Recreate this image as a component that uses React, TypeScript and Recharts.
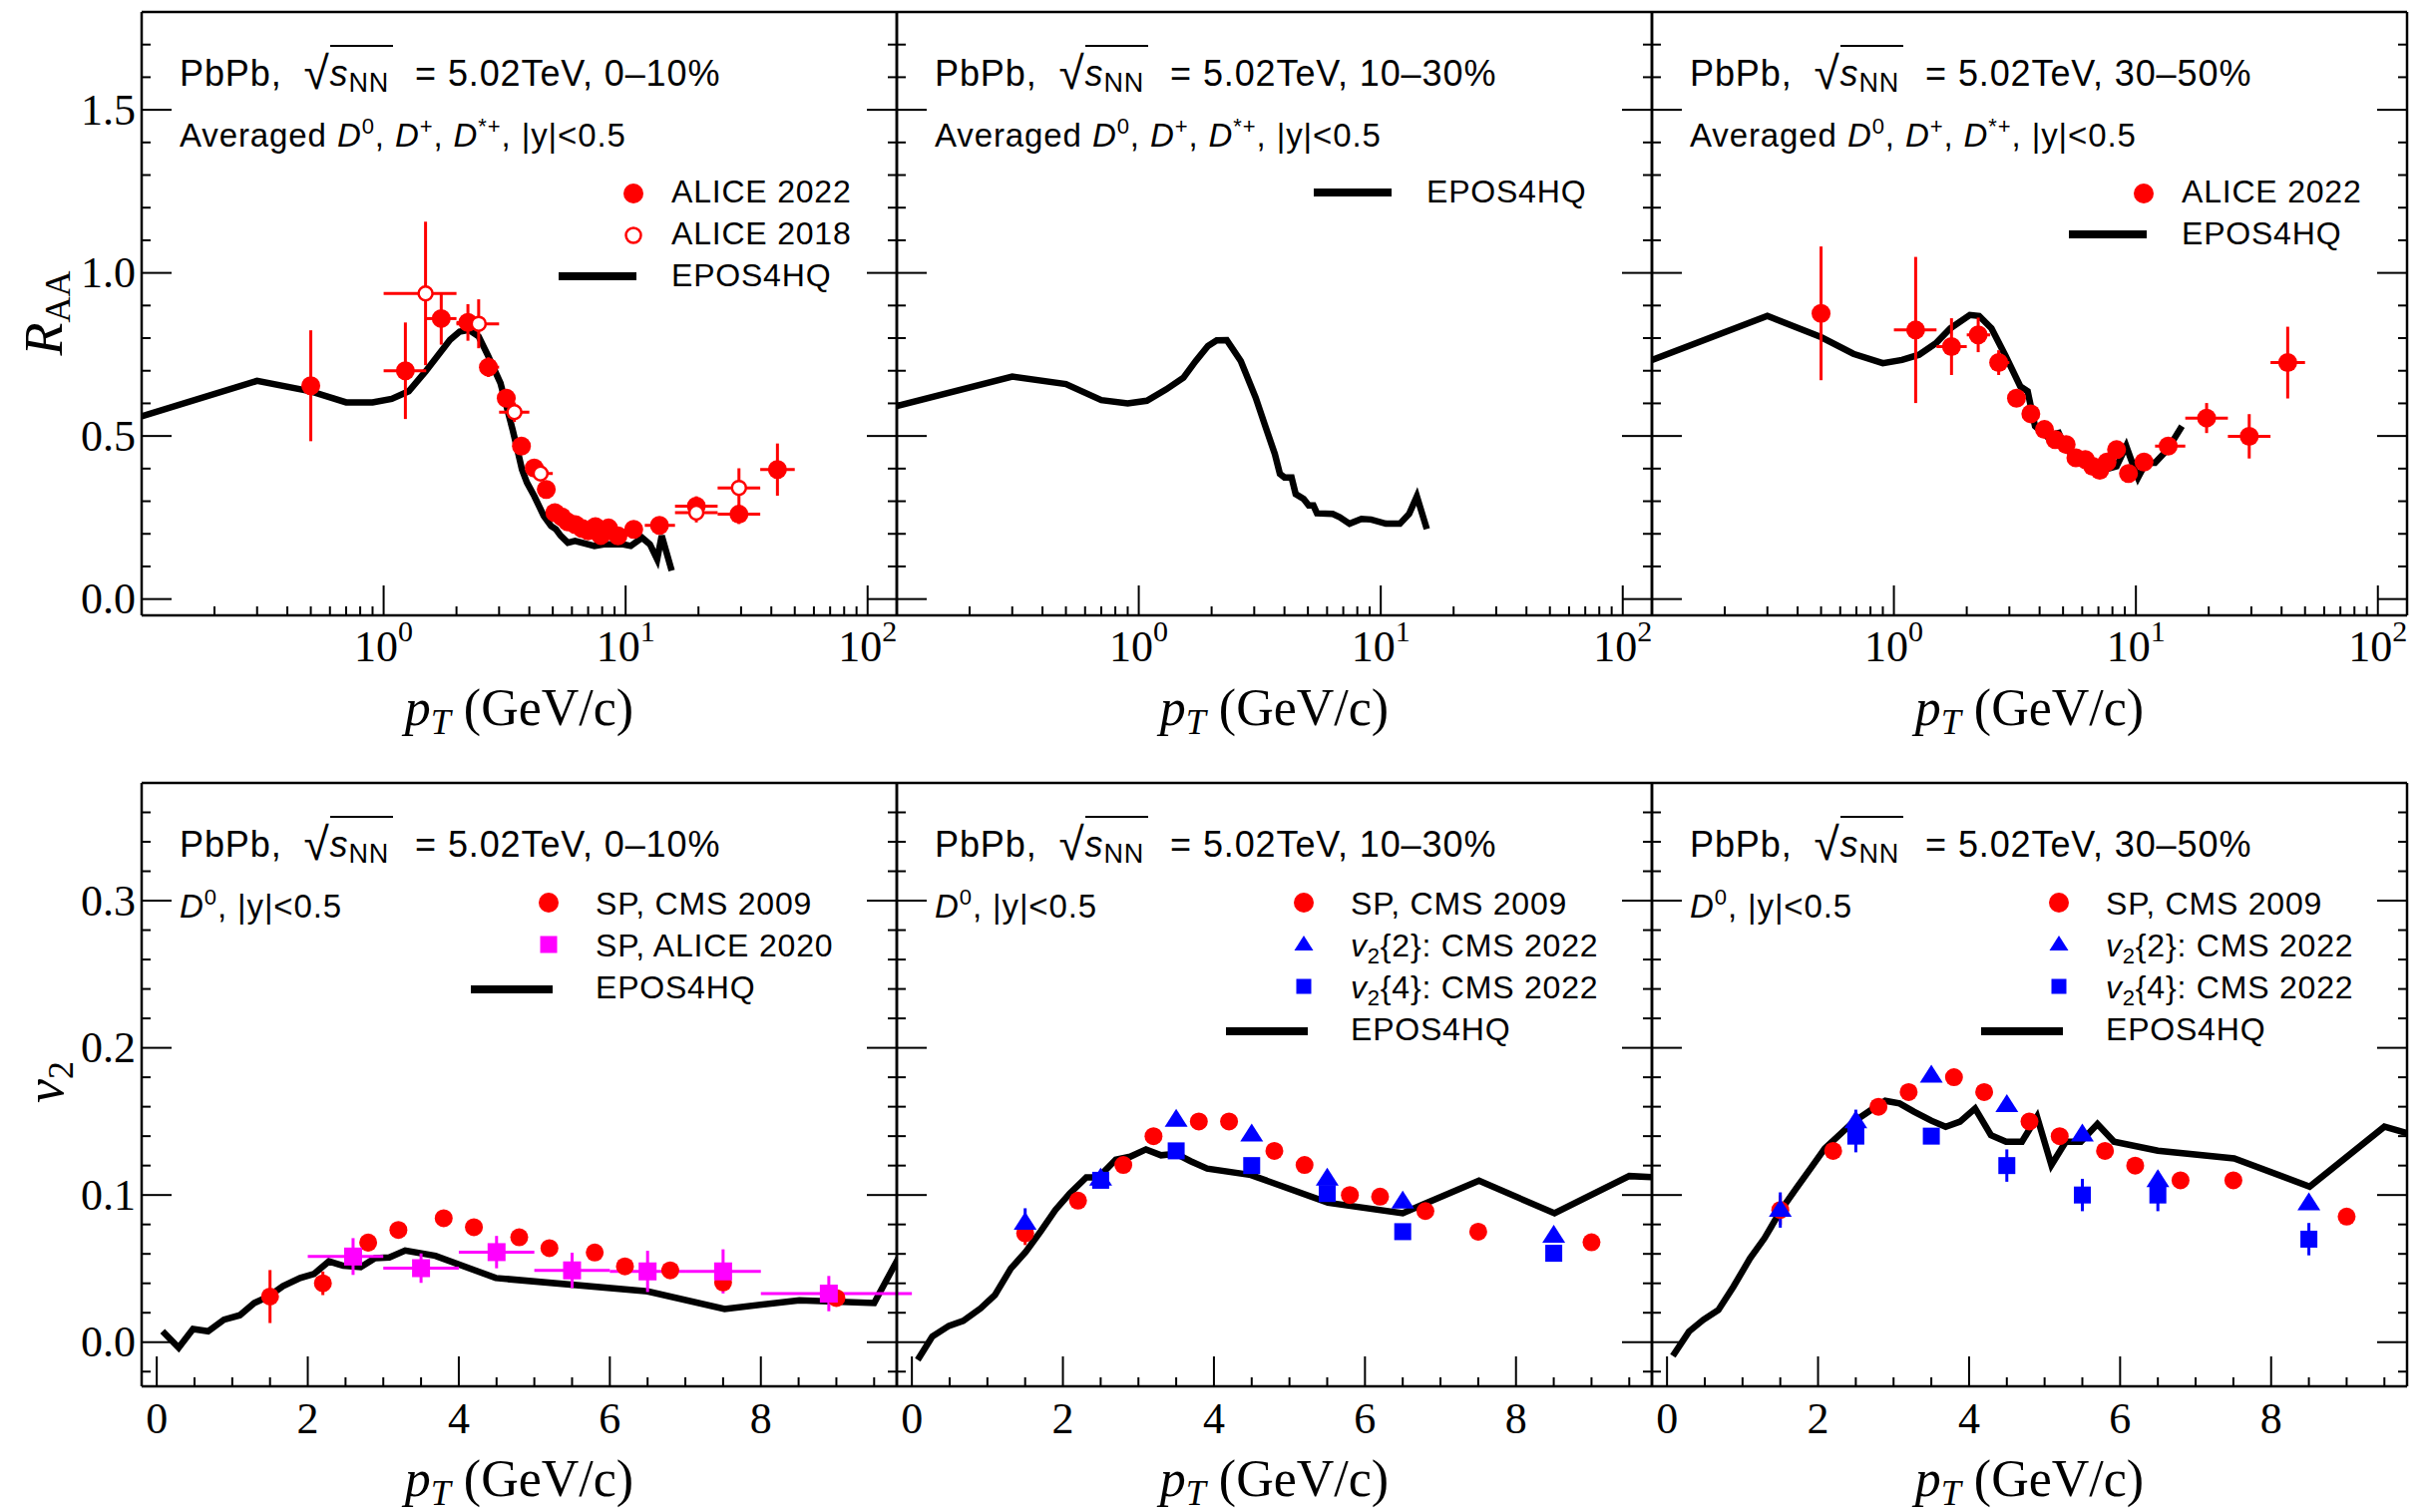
import React from 'react';
import { ComposedChart, Line, Scatter, XAxis, YAxis, ErrorBar } from 'recharts';

const W = 757;
const H = 605;
const COLS = [142, 899, 1656];
const ROWS = [12, 785];
const ML = 140, MR = 20, MT = 12, MB = 80, AX = 10;

const SANS = '"Liberation Sans", Arial, sans-serif';
const SERIF = '"Liberation Serif", "Times New Roman", serif';

// ---- axes ----
const RAA_X_DOMAIN = [0.1, 132];
const RAA_Y_DOMAIN = [-0.05, 1.8];
const RAA_X_MAJOR = [1, 10, 100];
const RAA_X_EXP = ['0', '1', '2'];
const RAA_X_MINOR = [0.2, 0.3, 0.4, 0.5, 0.6, 0.7, 0.8, 0.9, 2, 3, 4, 5, 6, 7, 8, 9, 20, 30, 40, 50, 60, 70, 80, 90];
const RAA_Y_MAJOR = [0, 0.5, 1, 1.5];
const RAA_Y_LABELS = ['0.0', '0.5', '1.0', '1.5'];
const RAA_Y_MINOR = [0.1, 0.2, 0.3, 0.4, 0.6, 0.7, 0.8, 0.9, 1.1, 1.2, 1.3, 1.4, 1.6, 1.7];

const V2_X_DOMAIN = [-0.2, 9.8];
const V2_Y_DOMAIN = [-0.03, 0.38];
const V2_X_MAJOR = [0, 2, 4, 6, 8];
const V2_X_LABELS = ['0', '2', '4', '6', '8'];
const V2_X_MINOR = [0.5, 1, 1.5, 2.5, 3, 3.5, 4.5, 5, 5.5, 6.5, 7, 7.5, 8.5, 9, 9.5];
const V2_Y_MAJOR = [0, 0.1, 0.2, 0.3];
const V2_Y_LABELS = ['0.0', '0.1', '0.2', '0.3'];
const V2_Y_MINOR = [-0.02, 0.02, 0.04, 0.06, 0.08, 0.12, 0.14, 0.16, 0.18, 0.22, 0.24, 0.26, 0.28, 0.32, 0.34, 0.36];

const CENTRALITIES = ['0–10%', '10–30%', '30–50%'];

// ---- EPOS4HQ curves [pT, value] ----
const EPOS_RAA_010 = [
  [0.1, 0.56], [0.3, 0.669], [0.5, 0.637], [0.7, 0.603], [0.9, 0.603], [1.08, 0.614], [1.27, 0.637],
  [1.49, 0.698], [1.88, 0.795], [2.06, 0.82], [2.25, 0.825], [2.47, 0.805], [2.71, 0.744], [3.04, 0.662],
  [3.41, 0.52], [3.57, 0.458], [3.73, 0.397], [3.91, 0.357], [4.19, 0.316], [4.59, 0.255], [4.92, 0.224],
  [5.15, 0.214], [5.39, 0.194], [5.77, 0.173], [6.18, 0.178], [7.43, 0.163], [8.13, 0.168], [9.78, 0.168],
  [10.5, 0.163], [11.7, 0.188], [12.6, 0.168], [13.5, 0.122], [14.1, 0.194], [15.5, 0.087],
];
const EPOS_RAA_1030 = [
  [0.1, 0.592], [0.3, 0.682], [0.5, 0.659], [0.7, 0.61], [0.9, 0.6], [1.08, 0.608], [1.3, 0.643],
  [1.53, 0.679], [1.72, 0.73], [1.93, 0.776], [2.1, 0.793], [2.31, 0.794], [2.64, 0.73], [3.04, 0.618],
  [3.33, 0.531], [3.65, 0.445], [3.83, 0.384], [4.0, 0.373], [4.28, 0.373], [4.45, 0.322], [4.8, 0.307],
  [5.04, 0.287], [5.27, 0.287], [5.45, 0.263], [6.33, 0.261], [6.77, 0.251], [7.43, 0.231], [8.32, 0.246],
  [9.12, 0.244], [10.5, 0.231], [12.0, 0.231], [13.1, 0.261], [14.1, 0.315], [15.5, 0.215],
];
const EPOS_RAA_3050 = [
  [0.1, 0.733], [0.3, 0.868], [0.5, 0.803], [0.68, 0.752], [0.9, 0.723], [1.08, 0.733], [1.27, 0.749],
  [1.49, 0.784], [1.71, 0.83], [2.06, 0.871], [2.25, 0.868], [2.53, 0.83], [2.9, 0.744], [3.33, 0.652],
  [3.57, 0.637], [3.83, 0.53], [4.28, 0.499], [4.8, 0.509], [5.15, 0.458], [5.65, 0.438], [6.18, 0.418],
  [6.77, 0.407], [7.43, 0.397], [8.32, 0.407], [9.12, 0.469], [9.78, 0.407], [10.2, 0.372], [11.0, 0.418],
  [12.0, 0.418], [13.5, 0.458], [15.5, 0.53],
];
const EPOS_V2_010 = [
  [0.077, 0.0074], [0.29, -0.0038], [0.48, 0.009], [0.68, 0.0074], [0.89, 0.0153], [1.1, 0.0183],
  [1.29, 0.0266], [1.48, 0.031], [1.67, 0.038], [1.9, 0.0436], [2.08, 0.0463], [2.28, 0.0549],
  [2.47, 0.0519], [2.7, 0.051], [2.89, 0.0571], [3.08, 0.0576], [3.29, 0.0623], [3.69, 0.0587],
  [4.49, 0.0436], [6.5, 0.0345], [7.52, 0.0226], [8.51, 0.0284], [9.5, 0.0266], [10.0, 0.074],
];
const EPOS_V2_1030 = [
  [0.077, -0.012], [0.27, 0.0038], [0.49, 0.0111], [0.68, 0.0145], [0.91, 0.023], [1.1, 0.032],
  [1.31, 0.05], [1.51, 0.0615], [1.71, 0.0756], [1.9, 0.0898], [2.09, 0.101], [2.31, 0.112],
  [2.47, 0.112], [2.7, 0.124], [2.89, 0.126], [3.1, 0.131], [3.3, 0.127], [3.5, 0.128], [3.69, 0.123],
  [3.91, 0.118], [4.49, 0.1136], [5.51, 0.0948], [6.5, 0.0876], [6.75, 0.0932], [7.51, 0.1097],
  [8.51, 0.0876], [9.5, 0.1129], [9.85, 0.112],
];
const EPOS_V2_3050 = [
  [0.077, -0.0093], [0.29, 0.0072], [0.48, 0.0152], [0.68, 0.0219], [0.88, 0.0378], [1.1, 0.057],
  [1.29, 0.0706], [1.51, 0.0898], [1.71, 0.1045], [1.9, 0.118], [2.09, 0.1317], [2.28, 0.1407],
  [2.47, 0.1498], [2.7, 0.1577], [2.89, 0.164], [3.08, 0.1622], [3.27, 0.1566], [3.5, 0.1505],
  [3.69, 0.1464], [3.88, 0.1498], [4.08, 0.1588], [4.29, 0.1407], [4.49, 0.1362], [4.7, 0.1362],
  [4.9, 0.1532], [5.09, 0.1204], [5.28, 0.1362], [5.48, 0.1362], [5.7, 0.1482], [5.92, 0.1362],
  [6.5, 0.1301], [7.51, 0.1249], [8.51, 0.1057], [9.5, 0.1464], [9.85, 0.1414],
];

// ---- measurements [pT, value, yErr, binLow, binHigh] ----
const ALICE22_010 = [
  [0.5, 0.654, 0.17], [1.23, 0.70, 0.148, 1, 1.5], [1.73, 0.86, 0.08, 1.5, 2], [2.23, 0.848, 0.056, 2, 2.5],
  [2.71, 0.711, 0.03, 2.5, 3], [3.21, 0.616, 0.02, 3, 3.5], [3.71, 0.469, 0.02, 3.5, 4], [4.19, 0.402, 0.02, 4, 4.5],
  [4.7, 0.336, 0.02, 4.5, 5], [5.1, 0.265, 0.02], [5.45, 0.252, 0.02], [5.75, 0.237, 0.02], [6.2, 0.228, 0.02],
  [6.6, 0.217, 0.02], [7.0, 0.209, 0.02], [7.5, 0.222, 0.02], [7.9, 0.195, 0.02], [8.5, 0.218, 0.02],
  [9.3, 0.194, 0.02], [10.8, 0.214, 0.02], [13.8, 0.226, 0.02, 12, 16], [19.6, 0.285, 0.03, 16, 24],
  [29.4, 0.26, 0.03, 24, 36], [42.4, 0.397, 0.08, 36, 50],
];
const ALICE18_010 = [
  [1.49, 0.937, 0.22, 1, 2], [2.47, 0.844, 0.075, 2, 3], [3.47, 0.573, 0.03, 3, 4], [4.45, 0.385, 0.02, 4, 5],
  [19.6, 0.265, 0.03, 16, 24], [29.4, 0.341, 0.06, 24, 36],
];
const ALICE22_3050 = [
  [0.5, 0.876, 0.205], [1.23, 0.825, 0.224, 1, 1.5], [1.73, 0.774, 0.087, 1.5, 2], [2.23, 0.81, 0.053, 2, 2.5],
  [2.71, 0.725, 0.038, 2.5, 3], [3.21, 0.616, 0.02], [3.68, 0.568, 0.02], [4.19, 0.52, 0.02], [4.64, 0.489, 0.02],
  [5.15, 0.474, 0.02], [5.65, 0.433, 0.02], [6.18, 0.428, 0.02], [6.62, 0.407, 0.02], [7.09, 0.395, 0.02],
  [7.6, 0.42, 0.02], [8.32, 0.458, 0.02], [9.32, 0.385, 0.02], [10.8, 0.42, 0.02], [13.6, 0.469, 0.02, 12, 16],
  [19.6, 0.555, 0.046, 16, 24], [29.4, 0.499, 0.068, 24, 36], [42.4, 0.725, 0.11, 36, 50],
];
const CMS09_010 = [
  [1.5, 0.031, 0.018], [2.2, 0.04, 0.008], [2.8, 0.0677, 0.006], [3.2, 0.0763, 0.004], [3.8, 0.0842, 0.004],
  [4.2, 0.0781, 0.004], [4.8, 0.0713, 0.004], [5.2, 0.0639, 0.005], [5.8, 0.0609, 0.005], [6.2, 0.0515, 0.005],
  [6.8, 0.0488, 0.005], [7.5, 0.0406, 0.005], [9.0, 0.03, 0.004],
];
const ALICE20_010 = [
  [2.6, 0.0582, 0.0125, 2, 3], [3.5, 0.0503, 0.01, 3, 4], [4.5, 0.0612, 0.011, 4, 5], [5.5, 0.0488, 0.012, 5, 6],
  [6.5, 0.0481, 0.014, 6, 7], [7.5, 0.0481, 0.015, 7, 8], [8.9, 0.033, 0.012, 8, 10],
];
const CMS09_1030 = [
  [1.5, 0.074, 0.008], [2.2, 0.0962, 0.003], [2.8, 0.1204, 0.003], [3.2, 0.14, 0.003], [3.8, 0.15, 0.003],
  [4.2, 0.15, 0.003], [4.8, 0.13, 0.003], [5.2, 0.1204, 0.003], [5.8, 0.1, 0.003], [6.2, 0.0989, 0.003],
  [6.8, 0.0891, 0.003], [7.5, 0.0751, 0.003], [9.0, 0.0679, 0.003],
];
const V22_1030 = [
  [1.5, 0.081, 0.01], [2.5, 0.111, 0.004], [3.5, 0.151, 0.003], [4.5, 0.141, 0.003], [5.5, 0.111, 0.004],
  [6.5, 0.0955, 0.003], [8.5, 0.0722, 0.004],
];
const V24_1030 = [
  [2.5, 0.11, 0.003], [3.5, 0.13, 0.003], [4.5, 0.12, 0.003], [5.5, 0.101, 0.003], [6.5, 0.0751, 0.003],
  [8.5, 0.0604, 0.003],
];
const CMS09_3050 = [
  [1.5, 0.0898, 0.01], [2.2, 0.13, 0.004], [2.8, 0.16, 0.003], [3.2, 0.17, 0.003], [3.8, 0.18, 0.003],
  [4.2, 0.17, 0.003], [4.8, 0.15, 0.003], [5.2, 0.14, 0.003], [5.8, 0.13, 0.003], [6.2, 0.12, 0.003],
  [6.8, 0.11, 0.004], [7.5, 0.11, 0.003], [9.0, 0.0853, 0.003],
];
const V22_3050 = [
  [1.5, 0.0898, 0.012], [2.5, 0.15, 0.008], [3.5, 0.181, 0.003], [4.5, 0.161, 0.003], [5.5, 0.141, 0.003],
  [6.5, 0.11, 0.006], [8.5, 0.0943, 0.003],
];
const V24_3050 = [
  [2.5, 0.14, 0.011], [3.5, 0.14, 0.004], [4.5, 0.12, 0.011], [5.5, 0.1, 0.011], [6.5, 0.1, 0.011],
  [8.5, 0.07, 0.011],
];

const curve = (rows: number[][]) => rows.map(([pt, v]) => ({ pt, v }));
const meas = (rows: number[][]) =>
  rows.map(([pt, v, ey, lo, hi]) => ({ pt, v, ey, lo: lo ?? pt, hi: hi ?? pt }));

const RED = '#ff0000';
const BLUE = '#0000ff';
const MAGENTA = '#ff00ff';

const isIn = (arr: number[], v: number) => arr.findIndex((m) => Math.abs(m - v) < 1e-9);

function makeTick(side: string, majors: number[], labels: string[] | null, log = false) {
  return (props: any) => {
    const { x, y, payload } = props;
    const idx = isIn(majors, payload.value);
    const len = idx >= 0 ? 30 : 9;
    let ln;
    if (side === 'bottom') ln = <line x1={x} y1={y} x2={x} y2={y - len} />;
    else if (side === 'top') ln = <line x1={x} y1={y} x2={x} y2={y + len} />;
    else if (side === 'left') ln = <line x1={x} y1={y} x2={x + len} y2={y} />;
    else ln = <line x1={x} y1={y} x2={x - len} y2={y} />;
    let label = null;
    if (labels && idx >= 0) {
      if (side === 'bottom' && log) {
        label = (
          <text x={x} y={y + 46} textAnchor="middle" fontFamily={SERIF} fontSize={44} fill="#000" stroke="none">
            10<tspan dy={-20} fontSize={30}>{labels[idx]}</tspan>
          </text>
        );
      } else if (side === 'bottom') {
        label = (
          <text x={x} y={y + 47} textAnchor="middle" fontFamily={SERIF} fontSize={44} fill="#000" stroke="none">
            {labels[idx]}
          </text>
        );
      } else if (side === 'left') {
        label = (
          <text x={x - 6} y={y} dy="0.33em" textAnchor="end" fontFamily={SERIF} fontSize={44} fill="#000" stroke="none">
            {labels[idx]}
          </text>
        );
      }
    }
    return (
      <g stroke="#000" strokeWidth={2}>
        {ln}
        {label}
      </g>
    );
  };
}

const dot = (color: string, r: number) => (p: any) => <circle cx={p.cx} cy={p.cy} r={r} fill={color} />;
const openDot = (p: any) => <circle cx={p.cx} cy={p.cy} r={7} fill="#fff" stroke={RED} strokeWidth={2.5} />;
const square = (color: string, s: number) => (p: any) => (
  <rect x={p.cx - s / 2} y={p.cy - s / 2} width={s} height={s} fill={color} />
);
const triangle = (color: string, w: number, h: number) => (p: any) => (
  <polygon
    points={`${p.cx},${p.cy - h * 0.62} ${p.cx - w / 2},${p.cy + h * 0.38} ${p.cx + w / 2},${p.cy + h * 0.38}`}
    fill={color}
  />
);

const eLine = (data: number[][]) => (
  <Line
    data={curve(data)}
    dataKey="v"
    type="linear"
    stroke="#000"
    strokeWidth={6.5}
    dot={false}
    isAnimationActive={false}
  />
);

const points = (data: number[][], color: string, shape: any, withX = true) => (
  <Scatter data={meas(data)} dataKey="v" shape={shape} isAnimationActive={false}>
    <ErrorBar dataKey="ey" direction="y" width={0} stroke={color} strokeWidth={3} />
    {withX && (
      <ErrorBar
        dataKey={(d: any) => [d.pt - d.lo, d.hi - d.pt]}
        direction="x"
        width={0}
        stroke={color}
        strokeWidth={3}
      />
    )}
  </Scatter>
);

const axisLine = { stroke: '#000', strokeWidth: 2.5 };

function Panel({ col, row, children }: { col: number; row: number; children: React.ReactNode }) {
  const raa = row === 0;
  const xDom = raa ? RAA_X_DOMAIN : V2_X_DOMAIN;
  const yDom = raa ? RAA_Y_DOMAIN : V2_Y_DOMAIN;
  const xMaj = raa ? RAA_X_MAJOR : V2_X_MAJOR;
  const xTicks = [...xMaj, ...(raa ? RAA_X_MINOR : V2_X_MINOR)];
  const yMaj = raa ? RAA_Y_MAJOR : V2_Y_MAJOR;
  const yTicks = [...yMaj, ...(raa ? RAA_Y_MINOR : V2_Y_MINOR)];
  const xLabels = raa ? RAA_X_EXP : V2_X_LABELS;
  const yLabels = col === 0 ? (raa ? RAA_Y_LABELS : V2_Y_LABELS) : null;
  const common = { tickLine: false, tickSize: 0, tickMargin: 0, interval: 0 as const, allowDataOverflow: true, axisLine };
  return (
    <div style={{ position: 'absolute', left: COLS[col] - ML, top: ROWS[row] - MT }}>
      <ComposedChart
        width={ML + W + MR}
        height={MT + H + MB}
        margin={{ left: ML - AX, right: MR - AX, top: MT - AX, bottom: MB - AX }}
      >
        <XAxis
          dataKey="pt"
          type="number"
          scale={raa ? 'log' : 'linear'}
          domain={xDom}
          ticks={xTicks}
          height={AX}
          tick={makeTick('bottom', xMaj, xLabels, raa)}
          {...common}
        />
        <XAxis
          xAxisId="t"
          orientation="top"
          type="number"
          scale={raa ? 'log' : 'linear'}
          domain={xDom}
          ticks={xTicks}
          height={AX}
          tick={makeTick('top', xMaj, null)}
          {...common}
        />
        <YAxis
          dataKey="v"
          type="number"
          domain={yDom}
          ticks={yTicks}
          width={AX}
          tick={makeTick('left', yMaj, yLabels)}
          {...common}
        />
        <YAxis
          yAxisId="r"
          orientation="right"
          type="number"
          domain={yDom}
          ticks={yTicks}
          width={AX}
          tick={makeTick('right', yMaj, null)}
          {...common}
        />
        {children}
      </ComposedChart>
    </div>
  );
}

// ---- text overlays ----
const Sup = ({ children, fs = 22, up = 13 }: any) => (
  <span style={{ fontSize: fs, position: 'relative', top: -up, lineHeight: 0 }}>{children}</span>
);
const Sub = ({ children, fs = 22, down = 7 }: any) => (
  <span style={{ fontSize: fs, position: 'relative', top: down, lineHeight: 0 }}>{children}</span>
);

function Title({ col, row }: { col: number; row: number }) {
  const left = COLS[col] + 38;
  const top = ROWS[row] + 74 - 0.8465 * 36;
  return (
    <div style={{ position: 'absolute', left, top, fontFamily: SANS, fontSize: 36, lineHeight: 1, letterSpacing: 0.9, whiteSpace: 'nowrap' }}>
      PbPb,&nbsp;&nbsp;<span style={{ fontSize: 46, position: 'relative', top: 3, lineHeight: 0 }}>√</span>
      <span style={{ borderTop: '2.5px solid #000', paddingTop: 6, paddingRight: 4 }}>
        <i>s</i>
        <Sub fs={27} down={6}>NN</Sub>
      </span>
      &nbsp;&nbsp;= 5.02TeV, {CENTRALITIES[col]}
    </div>
  );
}

function Subtitle({ col, row }: { col: number; row: number }) {
  const left = COLS[col] + 38;
  const top = ROWS[row] + 135 - 0.8465 * 33;
  return (
    <div style={{ position: 'absolute', left, top, fontFamily: SANS, fontSize: 33, lineHeight: 1, letterSpacing: 0.9, whiteSpace: 'nowrap' }}>
      {row === 0 ? (
        <>
          Averaged <i>D</i><Sup>0</Sup>, <i>D</i><Sup>+</Sup>, <i>D</i><Sup>*+</Sup>, |y|&lt;0.5
        </>
      ) : (
        <>
          <i>D</i><Sup>0</Sup>, |y|&lt;0.5
        </>
      )}
    </div>
  );
}

const V2N = ({ n }: { n: string }) => (
  <>
    <i>v</i>
    <Sub fs={22} down={7}>2</Sub>
    {`{${n}}`}: CMS 2022
  </>
);

const LEGENDS: { kind: string; label: React.ReactNode }[][][] = [
  [
    [{ kind: 'dot', label: 'ALICE 2022' }, { kind: 'open', label: 'ALICE 2018' }, { kind: 'line', label: 'EPOS4HQ' }],
    [{ kind: 'line', label: 'EPOS4HQ' }],
    [{ kind: 'dot', label: 'ALICE 2022' }, { kind: 'line', label: 'EPOS4HQ' }],
  ],
  [
    [{ kind: 'dot', label: 'SP, CMS 2009' }, { kind: 'msq', label: 'SP, ALICE 2020' }, { kind: 'line', label: 'EPOS4HQ' }],
    [
      { kind: 'dot', label: 'SP, CMS 2009' },
      { kind: 'tri', label: <V2N n="2" /> },
      { kind: 'bsq', label: <V2N n="4" /> },
      { kind: 'line', label: 'EPOS4HQ' },
    ],
    [
      { kind: 'dot', label: 'SP, CMS 2009' },
      { kind: 'tri', label: <V2N n="2" /> },
      { kind: 'bsq', label: <V2N n="4" /> },
      { kind: 'line', label: 'EPOS4HQ' },
    ],
  ],
];

function LegendBox({ col, row }: { col: number; row: number }) {
  const px = COLS[col];
  const py = ROWS[row];
  const cfg = row === 0
    ? { tx: 531, b0: 191.5, mx: 493, mdy: -10, l1: 418, l2: 496, ldy: -11 }
    : { tx: 455, b0: 132, mx: 408, mdy: -12, l1: 330, l2: 412, ldy: -9 };
  return (
    <>
      {LEGENDS[row][col].map((e, i) => {
        const base = py + cfg.b0 + i * 42;
        let mark: React.ReactNode = null;
        if (e.kind === 'line') {
          mark = (
            <svg style={{ position: 'absolute', left: px + cfg.l1, top: base + cfg.ldy - 5, overflow: 'visible' }} width={cfg.l2 - cfg.l1} height={10}>
              <line x1={0} y1={5} x2={cfg.l2 - cfg.l1} y2={5} stroke="#000" strokeWidth={8} />
            </svg>
          );
        } else {
          const cy = base + cfg.mdy;
          let shape: React.ReactNode = null;
          if (e.kind === 'dot') shape = <circle cx={15} cy={15} r={10} fill={RED} />;
          if (e.kind === 'open') shape = <circle cx={15} cy={15} r={7.5} fill="#fff" stroke={RED} strokeWidth={2.5} />;
          if (e.kind === 'msq') shape = <rect x={6.5} y={6.5} width={17} height={17} fill={MAGENTA} />;
          if (e.kind === 'bsq') shape = <rect x={7.5} y={7.5} width={15} height={15} fill={BLUE} />;
          if (e.kind === 'tri') shape = <polygon points="15,6 5.5,21 24.5,21" fill={BLUE} />;
          mark = (
            <svg style={{ position: 'absolute', left: px + cfg.mx - 15, top: cy - 15 }} width={30} height={30}>
              {shape}
            </svg>
          );
        }
        return (
          <React.Fragment key={i}>
            {mark}
            <div
              style={{
                position: 'absolute',
                left: px + cfg.tx,
                top: base - 0.8465 * 32,
                fontFamily: SANS,
                fontSize: 32,
                lineHeight: 1,
                letterSpacing: 0.8,
                whiteSpace: 'nowrap',
              }}
            >
              {e.label}
            </div>
          </React.Fragment>
        );
      })}
    </>
  );
}

export default function App() {
  const cells = [0, 1].flatMap((r) => [0, 1, 2].map((c) => ({ r, c })));
  return (
    <div style={{ position: 'absolute', left: 0, top: 0, width: 2435, height: 1516, overflow: 'hidden', background: '#fff' }}>
      <Panel col={0} row={0}>
        {eLine(EPOS_RAA_010)}
        {points(ALICE22_010, RED, dot(RED, 9.5))}
        {points(ALICE18_010, RED, openDot)}
      </Panel>
      <Panel col={1} row={0}>
        {eLine(EPOS_RAA_1030)}
      </Panel>
      <Panel col={2} row={0}>
        {eLine(EPOS_RAA_3050)}
        {points(ALICE22_3050, RED, dot(RED, 9.5))}
      </Panel>
      <Panel col={0} row={1}>
        {eLine(EPOS_V2_010)}
        {points(CMS09_010, RED, dot(RED, 9), false)}
        {points(ALICE20_010, MAGENTA, square(MAGENTA, 18))}
      </Panel>
      <Panel col={1} row={1}>
        {eLine(EPOS_V2_1030)}
        {points(CMS09_1030, RED, dot(RED, 9), false)}
        {points(V22_1030, BLUE, triangle(BLUE, 23, 18), false)}
        {points(V24_1030, BLUE, square(BLUE, 17), false)}
      </Panel>
      <Panel col={2} row={1}>
        {eLine(EPOS_V2_3050)}
        {points(CMS09_3050, RED, dot(RED, 9), false)}
        {points(V22_3050, BLUE, triangle(BLUE, 23, 18), false)}
        {points(V24_3050, BLUE, square(BLUE, 17), false)}
      </Panel>

      {cells.map(({ r, c }) => (
        <React.Fragment key={`${r}-${c}`}>
          <Title col={c} row={r} />
          <Subtitle col={c} row={r} />
          <LegendBox col={c} row={r} />
        </React.Fragment>
      ))}

      <svg width={2435} height={1516} style={{ position: 'absolute', left: 0, top: 0, pointerEvents: 'none' }}>
        {cells.map(({ r, c }) => (
          <text
            key={`xl-${r}-${c}`}
            x={COLS[c] + W / 2}
            y={ROWS[r] + H + 110}
            textAnchor="middle"
            fontFamily={SERIF}
            fontSize={52}
          >
            <tspan fontStyle="italic">p</tspan>
            <tspan fontStyle="italic" fontSize={36} dy={9}>T</tspan>
            <tspan dy={-9}> (GeV/c)</tspan>
          </text>
        ))}
        <text transform="translate(62,314) rotate(-90)" textAnchor="middle" fontFamily={SERIF} fontSize={54}>
          <tspan fontStyle="italic">R</tspan>
          <tspan fontSize={36} dy={8}>AA</tspan>
        </text>
        <text transform="translate(63,1085) rotate(-90)" textAnchor="middle" fontFamily={SERIF} fontSize={54}>
          <tspan fontStyle="italic">v</tspan>
          <tspan fontSize={36} dy={10}>2</tspan>
        </text>
      </svg>
    </div>
  );
}
